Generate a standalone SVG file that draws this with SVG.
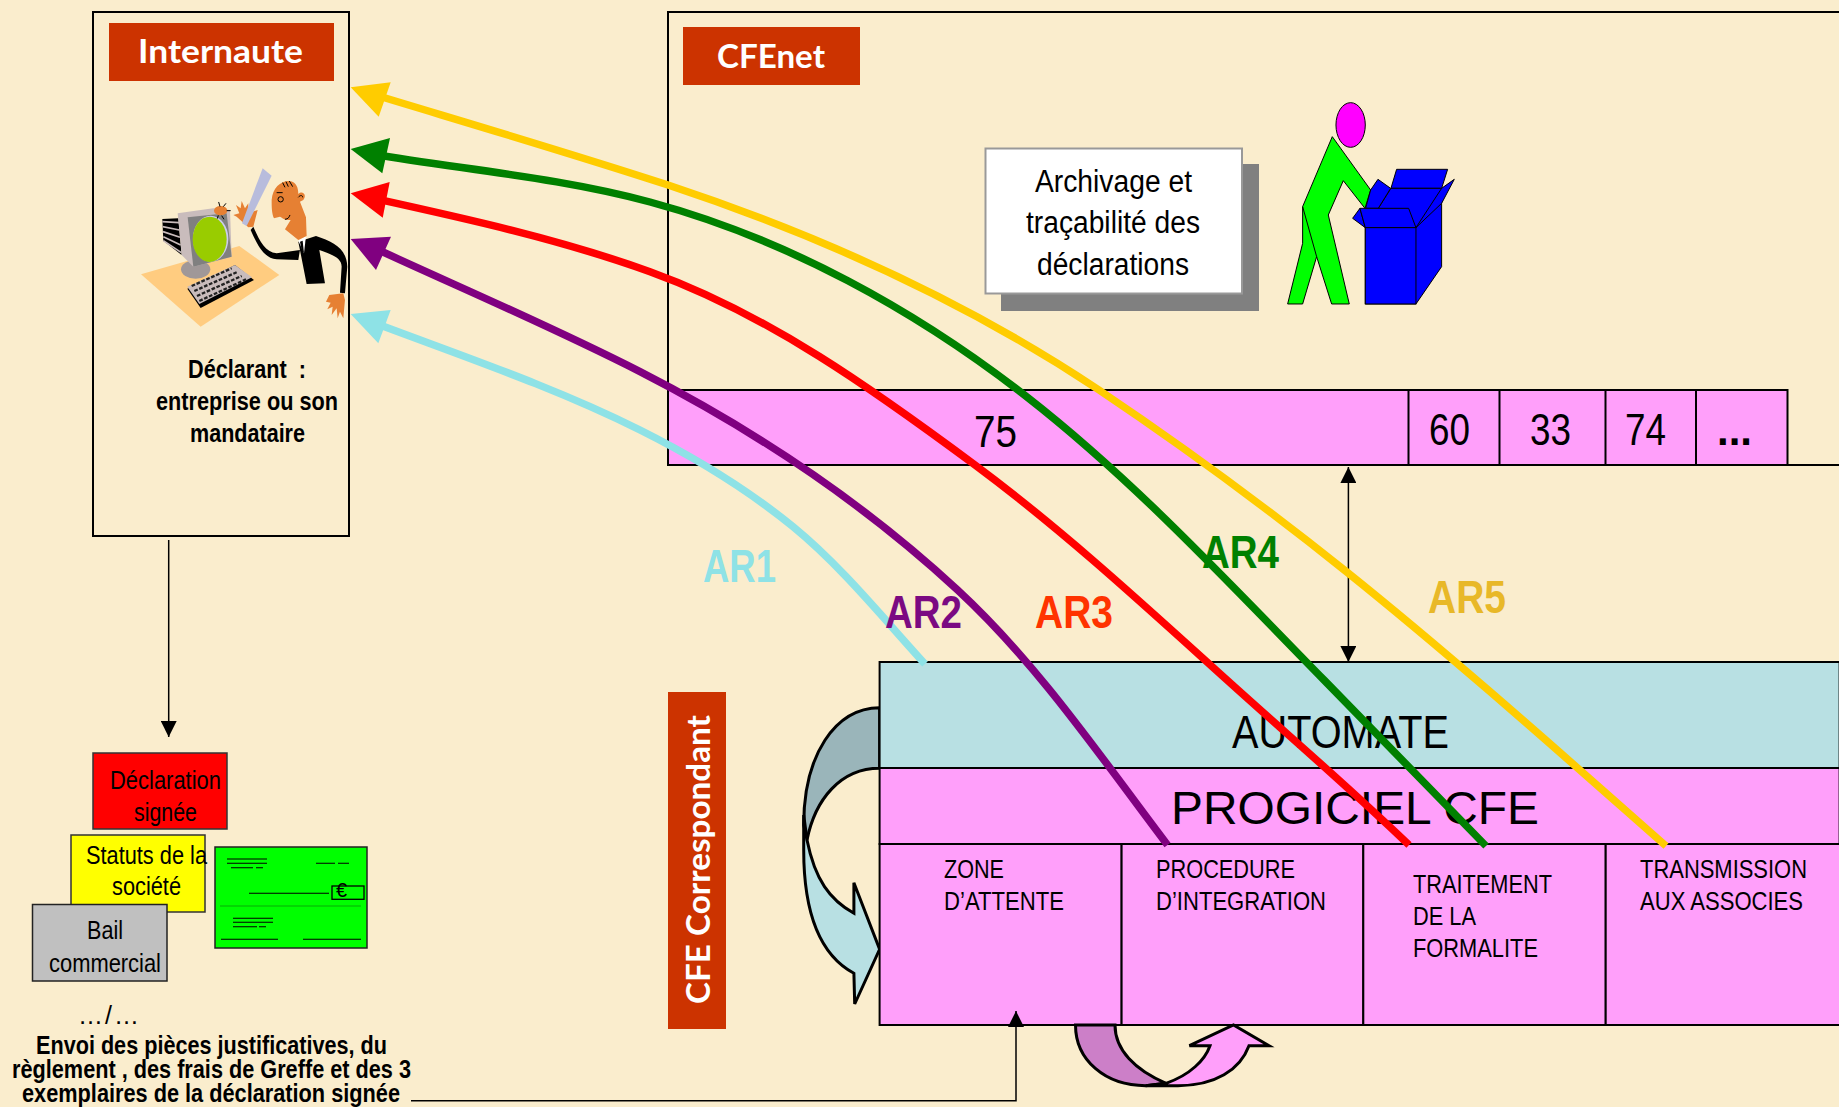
<svg xmlns="http://www.w3.org/2000/svg" width="1839" height="1107" viewBox="0 0 1839 1107">
<style>
text{font-family:"Liberation Sans",Arial,sans-serif;fill:#000}
.b{font-weight:bold}
.hd{font-family:"Lato","Liberation Sans",sans-serif;font-weight:bold;fill:#fff;font-size:32px}
.hdbg{fill:#CC3300}
.box{fill:none;stroke:#000;stroke-width:2}
.pink{fill:#FF9FFA;stroke:#000;stroke-width:2}
.s26{font-size:26px}.s25{font-size:25px}.s31{font-size:31px}.s45{font-size:45px}.s47{font-size:47px}
.ln{stroke:#000;stroke-width:1.1;fill:none}
.thin{fill:none;stroke:#000;stroke-width:1.5}
.ar{fill:none;stroke-width:7.5}
.cs{stroke:#000;stroke-width:3}
</style>
<defs>
<marker id="tri" viewBox="0 0 16 16" refX="16" refY="8" markerWidth="16" markerHeight="16" markerUnits="userSpaceOnUse" orient="auto-start-reverse"><path d="M0,0L16,8L0,16Z" fill="#000"/></marker>
</defs>
<rect width="1839" height="1107" fill="#FAEDCD"/>

<g id="internaute">
<rect class="box" x="93" y="12" width="256" height="524"/>
<rect class="hdbg" x="109" y="23" width="225" height="58"/>
<text class="hd" x="138" y="63" textLength="165" lengthAdjust="spacingAndGlyphs">Internaute</text>
<g id="clipart" transform="translate(80,0) scale(0.3333)">
<polygon points="183,823 478,738 598,825 362,980" fill="#FFCC80"/>
<ellipse cx="347" cy="808" rx="44" ry="28" fill="#A09898"/>
<polygon points="247,657 295,655 305,765 250,722" fill="#000"/>
<g stroke="#C9BCBC" stroke-width="5"><line x1="247" y1="665" x2="297" y2="668"/><line x1="248" y1="680" x2="298" y2="690"/><line x1="249" y1="695" x2="300" y2="712"/><line x1="250" y1="710" x2="302" y2="735"/><line x1="250" y1="722" x2="304" y2="758"/></g>
<polygon points="293,640 400,625 450,630 455,770 340,800 305,765" fill="#C9BCBC"/>
<polygon points="323,652 440,640 455,770 340,800" fill="#808080"/>
<ellipse cx="392" cy="716" rx="53" ry="69" fill="#CCCCEE"/>
<ellipse cx="389" cy="718" rx="51" ry="68" fill="#99CC00"/>
<polygon points="322,866 362,924 522,840 465,795" fill="#000"/>
<polygon points="322,860 358,912 516,832 465,795" fill="#C9BCBC"/>
<g stroke="#222" stroke-width="7" stroke-dasharray="11,5"><line x1="335" y1="858" x2="455" y2="805"/><line x1="343" y1="873" x2="470" y2="817"/><line x1="351" y1="888" x2="485" y2="828"/><line x1="358" y1="903" x2="498" y2="838"/></g>
<ellipse cx="422" cy="632" rx="20" ry="14" fill="#E68033"/>
<g stroke="#000" stroke-width="3" fill="none"><path d="M440,632H452M420,620L416,606M430,620L438,610M425,647L432,658M415,646L412,656"/></g>
<path d="M505,682L470,650L460,645L478,640L468,615L482,625L485,603L495,625L505,610L505,640L533,630L520,680Z" fill="#E68033"/>
<polygon points="548,505 575,527 500,678 486,670" fill="#B8BCDC"/>
<path d="M520,680C540,725 555,755 590,760L660,750L655,780L590,778C550,775 530,730 512,690Z" fill="#000"/>
<path d="M655,725L708,708C760,725 800,745 802,800L795,880L780,878L785,800C785,775 760,765 718,750L735,850L680,852Z" fill="#000"/>
<polygon points="655,722 678,708 672,760" fill="#fff"/>
<polygon points="660,725 668,722 672,760 665,750" fill="#000"/>
<path d="M575,600C578,565 600,543 628,543C650,545 655,565 655,582C668,570 682,585 670,600L660,605L678,652L680,708L655,720L615,688L632,660C610,660 610,655 600,650L582,655C575,640 575,620 575,600Z" fill="#E68033"/>
<g stroke="#000" stroke-width="3" fill="none"><path d="M608,548L615,562M618,545L625,560M628,543L638,560M590,578H608M615,658C625,658 628,650 630,645M655,592C660,585 668,585 668,592"/><circle cx="602" cy="598" r="8"/></g>
<path d="M790,880L748,885L738,905L752,908L742,928L758,920L755,945L770,925L773,955L780,935L790,955L795,900Z" fill="#E68033"/>
</g>
<text class="b s25" x="188" y="378" textLength="118" lengthAdjust="spacingAndGlyphs" xml:space="preserve">Déclarant  :</text>
<text class="b s25" x="156" y="410" textLength="182" lengthAdjust="spacingAndGlyphs">entreprise ou son</text>
<text class="b s25" x="190" y="442" textLength="115" lengthAdjust="spacingAndGlyphs">mandataire</text>
</g>

<g id="cfenet">
<path class="box" d="M1839,12H668V465H1839"/>
<rect class="hdbg" x="683" y="27" width="177" height="58"/>
<text class="hd" x="717" y="68" textLength="108" lengthAdjust="spacingAndGlyphs">CFEnet</text>
</g>

<g id="archivage">
<rect x="1001" y="164" width="258" height="147" fill="#808080"/>
<rect x="985.500" y="148.500" width="256.500" height="145" fill="#fff" stroke="#999" stroke-width="2"/>
<text class="s31" x="1035" y="192" textLength="157" lengthAdjust="spacingAndGlyphs">Archivage et</text>
<text class="s31" x="1026" y="233" textLength="174" lengthAdjust="spacingAndGlyphs">traçabilité des</text>
<text class="s31" x="1037" y="275" textLength="152" lengthAdjust="spacingAndGlyphs">déclarations</text>
</g>

<g id="personnage" transform="translate(960,80) scale(0.3333)" stroke="#000" stroke-width="3" stroke-linejoin="miter">
<ellipse cx="1172" cy="135" rx="44" ry="67" fill="#FF00FF"/>
<polygon points="1310,268 1463,268 1445,325 1293,325" fill="#0000FF"/>
<polygon points="1293,325 1445,325 1445,560 1368,672 1216,672 1216,443 1255,385" fill="#0000FF"/>
<polygon points="1445,325 1483,298 1445,370 1368,443" fill="#0000FF"/>
<polygon points="1117,170 1232,330 1215,385 1150,302 1105,405 1168,672 1115,672 1070,530 1028,672 983,672 1028,490 1028,380" fill="#00FF00"/>
<line x1="1028" y1="380" x2="1070" y2="530"/>
<polygon points="1254,298 1292,325 1255,385 1217,385 1232,330" fill="#0000FF"/>
<polygon points="1200,385 1178,415 1216,443" fill="#0000FF"/>
<polygon points="1200,385 1346,385 1368,443 1216,443" fill="#0000FF"/>
<rect x="1216" y="443" width="152" height="229" fill="#0000FF"/>
</g>

<g id="departements">
<rect class="pink" x="668" y="390" width="1119.500" height="75"/>
<path class="box" d="M1408.500,390V465M1499.500,390V465M1605.500,390V465M1696,390V465"/>
<text class="s45" x="974" y="447" textLength="43" lengthAdjust="spacingAndGlyphs">75</text>
<text class="s45" x="1429" y="445" textLength="41" lengthAdjust="spacingAndGlyphs">60</text>
<text class="s45" x="1530" y="445" textLength="41" lengthAdjust="spacingAndGlyphs">33</text>
<text class="s45" x="1625" y="445" textLength="41" lengthAdjust="spacingAndGlyphs">74</text>
<text class="s45 b" x="1717" y="445" textLength="35" lengthAdjust="spacingAndGlyphs">...</text>
</g>

<g id="cfe-correspondant">
<rect class="hdbg" x="668" y="692" width="58" height="337"/>
<text class="hd" transform="translate(710,1004) rotate(-90)" textLength="289" lengthAdjust="spacingAndGlyphs">CFE  Correspondant</text>
</g>

<g id="boucle-gauche">
<path class="cs" fill="#9AB5BA" d="M879.600,707.700C835,708 803.700,755 803.700,825L807,840C815,800 840,768.300 879.600,768.300Z"/>
<path class="cs" fill="#B8E0E3" d="M803.700,815L807,840C815,880 830,900 853.900,913.300L853.900,882.700L879.600,949.300L854.700,1004L853.900,973.300C820,955 803.700,915 803.700,850Z"/>
</g>

<g id="automate">
<rect x="879.600" y="662" width="960" height="106" fill="#B8E0E3" stroke="#000" stroke-width="2"/>
<text class="s47" x="1232" y="748" textLength="217" lengthAdjust="spacingAndGlyphs">AUTOMATE</text>
</g>
<g id="progiciel">
<rect class="pink" x="879.600" y="768" width="960" height="76"/>
<text class="s47" x="1171" y="824" textLength="368" lengthAdjust="spacingAndGlyphs">PROGICIEL CFE</text>
</g>
<g id="zone-attente">
<rect class="pink" x="879.600" y="844" width="242" height="181"/>
<text class="s26" x="944" y="878" textLength="60" lengthAdjust="spacingAndGlyphs">ZONE</text>
<text class="s26" x="944" y="910" textLength="120" lengthAdjust="spacingAndGlyphs">D’ATTENTE</text>
</g>
<g id="procedure">
<rect class="pink" x="1121.600" y="844" width="241.700" height="181"/>
<text class="s26" x="1156" y="878" textLength="139" lengthAdjust="spacingAndGlyphs">PROCEDURE</text>
<text class="s26" x="1156" y="910" textLength="170" lengthAdjust="spacingAndGlyphs">D’INTEGRATION</text>
</g>
<g id="traitement">
<rect class="pink" x="1363.300" y="844" width="242.400" height="181"/>
<text class="s26" x="1413" y="893" textLength="139" lengthAdjust="spacingAndGlyphs">TRAITEMENT</text>
<text class="s26" x="1413" y="925" textLength="63" lengthAdjust="spacingAndGlyphs">DE LA</text>
<text class="s26" x="1413" y="957" textLength="125" lengthAdjust="spacingAndGlyphs">FORMALITE</text>
</g>
<g id="transmission">
<rect class="pink" x="1605.700" y="844" width="240" height="181"/>
<text class="s26" x="1640" y="878" textLength="167" lengthAdjust="spacingAndGlyphs">TRANSMISSION</text>
<text class="s26" x="1640" y="910" textLength="163" lengthAdjust="spacingAndGlyphs">AUX ASSOCIES</text>
</g>

<g id="boucle-bas">
<path class="cs" fill="#CC7FC8" d="M1075.500,1025C1075.500,1060 1105,1085.700 1145.700,1085.700L1166,1083.300C1135,1070 1115,1050 1115,1025Z"/>
<path class="cs" fill="#FF9FFA" d="M1166,1083.300C1190,1075 1205,1060 1210,1045.700L1189.400,1045.700L1233.500,1025L1269,1045.700L1249,1045.700C1240,1070 1215,1085.700 1178,1085.700L1145.700,1085.700Z"/>
</g>

<g id="declaration">
<rect x="93" y="753" width="134" height="76" fill="#FF0000" stroke="#333" stroke-width="1.500"/>
<text class="s26" x="110" y="789" textLength="111" lengthAdjust="spacingAndGlyphs">Déclaration</text>
<text class="s26" x="134" y="821" textLength="63" lengthAdjust="spacingAndGlyphs">signée</text>
</g>
<g id="statuts">
<rect x="71" y="835" width="134" height="77" fill="#FFFF00" stroke="#333" stroke-width="1.500"/>
<text class="s26" x="86" y="864" textLength="121" lengthAdjust="spacingAndGlyphs">Statuts de la</text>
<text class="s26" x="112" y="895" textLength="69" lengthAdjust="spacingAndGlyphs">société</text>
</g>
<g id="bail">
<rect x="32.500" y="904.500" width="134.500" height="76.500" fill="#C0C0C0" stroke="#222" stroke-width="1.500"/>
<text class="s26" x="87" y="939" textLength="36" lengthAdjust="spacingAndGlyphs">Bail</text>
<text class="s26" x="49" y="972" textLength="112" lengthAdjust="spacingAndGlyphs">commercial</text>
</g>
<g id="cheque">
<rect x="215" y="847" width="152" height="101" fill="#00FF00" stroke="#222" stroke-width="1.500"/>
<path class="ln" d="M227,859H267M227,863.300H267M231,867.700H253M256,867.700H263M316,863.300H335M338,863.300H349M249,893.300H329M221,939.300H278M303,939.300H361M233,918.300H273M233,922.300H273M233,926.700H257M259,926.700H266"/>
<path d="M220,906H361" stroke="#0A8A0A" stroke-width="0.700"/>
<rect x="332" y="886" width="32" height="13.300" fill="none" stroke="#000" stroke-width="1.300"/>
<text x="336" y="897" font-size="20">€</text>
</g>
<g id="envoi">
<text class="s25" x="78" y="1024" textLength="61" lengthAdjust="spacing">…/…</text>
<text class="b s25" x="36" y="1054" textLength="351" lengthAdjust="spacingAndGlyphs">Envoi des pièces justificatives, du</text>
<text class="b s25" x="12" y="1078" textLength="399" lengthAdjust="spacingAndGlyphs">règlement , des frais de Greffe et des 3</text>
<text class="b s25" x="22" y="1102" textLength="378" lengthAdjust="spacingAndGlyphs">exemplaires de la déclaration signée</text>
</g>

<g id="connecteurs">
<line class="thin" x1="168.700" y1="540" x2="168.700" y2="737" marker-end="url(#tri)"/>
<line class="thin" x1="1348.400" y1="467" x2="1348.400" y2="662" marker-start="url(#tri)" marker-end="url(#tri)"/>
<path class="thin" d="M411,1100.700H1016V1011" marker-end="url(#tri)"/>

<path class="ar" stroke="#8EE2E6" d="M372,322C462,356 554,387 640,430C693.600,456.800 746.600,488.700 793,526.700C841.700,566.700 881.600,616.400 925,664"/>
<polygon fill="#8EE2E6" points="350.700,314 390.700,310 378.300,343.300"/>

<path class="ar" stroke="#800080" d="M372,247C461.700,288.400 552.200,326.800 640,371.700C754,430 863.600,503 957.600,590C1037.600,664 1100.200,756.100 1167.500,845"/>
<polygon fill="#800080" points="350.700,239 391,236.700 376,270"/>

<path class="ar" stroke="#FF0000" d="M372,198C465.700,218.600 559.800,239.200 650,271.700C768.400,314.400 874,390 975,465C1063.300,530.500 1145.400,606.300 1227,680C1287,734.300 1348.700,787 1409,845"/>
<polygon fill="#FF0000" points="350.700,193.300 389.700,182 382.700,217.700"/>

<path class="ar" stroke="#008000" d="M372,154C464.600,169.700 559.300,177.600 650,202C786,238.700 916,310.300 1027,397C1135,481.300 1228,582.200 1324,680C1377,734.300 1430,788.600 1486,846"/>
<polygon fill="#008000" points="350.700,149 390,138 382.300,173.300"/>

<path class="ar" stroke="#FFCC00" d="M372,94C471,124 570,153 668,185C819,235 967,302 1099,390C1184,447 1266.500,507.700 1346.500,571.700C1455,658.700 1558.800,751.500 1666,846"/>
<polygon fill="#FFCC00" points="350.700,87.300 390.700,82.300 378.700,116.700"/>
</g>

<g id="etiquettes">
<text class="b s47" style="fill:#8EE2E6" x="703" y="582" textLength="73" lengthAdjust="spacingAndGlyphs">AR1</text>
<text class="b s47" style="fill:#7B0A82" x="885" y="628" textLength="77" lengthAdjust="spacingAndGlyphs">AR2</text>
<text class="b s47" style="fill:#FF3300" x="1035" y="628" textLength="78" lengthAdjust="spacingAndGlyphs">AR3</text>
<text class="b s47" style="fill:#008000" x="1202" y="568" textLength="77" lengthAdjust="spacingAndGlyphs">AR4</text>
<text class="b s47" style="fill:#E8B828" x="1428" y="613" textLength="78" lengthAdjust="spacingAndGlyphs">AR5</text>
</g>
</svg>
